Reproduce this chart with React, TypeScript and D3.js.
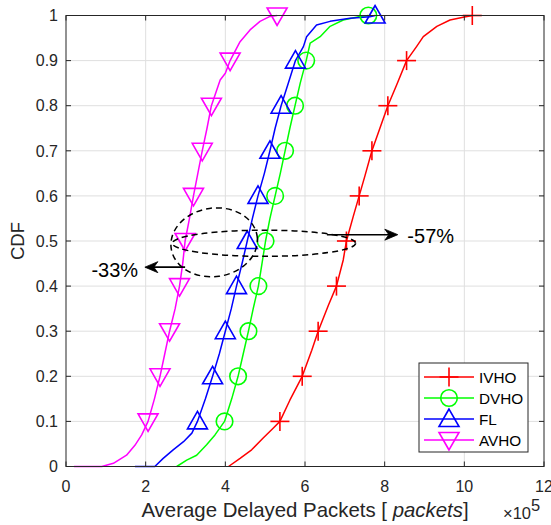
import React from 'react';
import * as d3 from 'd3';

// Empirical CDFs of average delayed packets (x in units of 1e5 packets)
const ivhoX = [4.08, 4.37, 4.66, 4.95, 5.2, 5.37, 5.62, 5.93, 6.17, 6.33, 6.59, 6.79, 6.96, 7.04, 7.21, 7.36, 7.51, 7.68, 7.88, 8.08, 8.3, 8.55, 8.8, 8.97, 9.31, 9.64, 9.97, 10.2];
const ivhoY = [0, 0.018, 0.037, 0.063, 0.085, 0.1, 0.147, 0.2, 0.258, 0.3, 0.358, 0.4, 0.458, 0.5, 0.554, 0.6, 0.646, 0.7, 0.75, 0.8, 0.846, 0.9, 0.931, 0.953, 0.976, 0.99, 0.996, 1.0];

const dvhoX = [2.78, 3.03, 3.28, 3.53, 3.74, 3.98, 4.16, 4.32, 4.45, 4.58, 4.7, 4.83, 4.92, 5.01, 5.12, 5.25, 5.38, 5.5, 5.62, 5.75, 5.88, 6.03, 6.13, 6.38, 6.63, 6.96, 7.38, 7.59];
const dvhoY = [0, 0.014, 0.025, 0.048, 0.07, 0.1, 0.15, 0.2, 0.25, 0.3, 0.35, 0.4, 0.45, 0.5, 0.55, 0.6, 0.65, 0.7, 0.75, 0.8, 0.85, 0.9, 0.939, 0.953, 0.976, 0.99, 0.998, 1.0];

const flX = [1.73, 2.23, 2.44, 2.69, 2.95, 3.16, 3.3, 3.5, 3.68, 3.85, 4.0, 4.15, 4.28, 4.42, 4.55, 4.68, 4.82, 4.98, 5.12, 5.25, 5.4, 5.58, 5.76, 5.96, 6.04, 6.29, 6.63, 7.13, 7.63, 7.76];
const flY = [0, 0, 0.018, 0.037, 0.055, 0.074, 0.1, 0.15, 0.2, 0.25, 0.3, 0.35, 0.4, 0.45, 0.5, 0.55, 0.6, 0.65, 0.7, 0.75, 0.8, 0.85, 0.9, 0.931, 0.953, 0.979, 0.987, 0.994, 0.997, 1.0];

const avhoX = [0.2, 0.9, 1.19, 1.52, 1.73, 1.9, 2.06, 2.22, 2.36, 2.48, 2.6, 2.74, 2.85, 2.93, 2.99, 3.1, 3.2, 3.31, 3.42, 3.54, 3.65, 3.87, 4.0, 4.12, 4.37, 4.62, 4.87, 5.12, 5.3];
const avhoY = [0, 0, 0.007, 0.025, 0.047, 0.07, 0.1, 0.15, 0.2, 0.25, 0.3, 0.35, 0.4, 0.45, 0.5, 0.55, 0.6, 0.65, 0.7, 0.75, 0.8, 0.857, 0.872, 0.9, 0.942, 0.968, 0.987, 0.998, 1.0];

const seriesNames = ['IVHO', 'DVHO', 'FL', 'AVHO'];
const seriesColors = ['#ff0000', '#00ff00', '#0000ff', '#ff00ff'];
const seriesMarkers = ['plus', 'circle', 'triangleUp', 'triangleDown'];

const xTicks = [0, 2, 4, 6, 8, 10, 12];
const yTicks = [0, 0.1, 0.2, 0.3, 0.4, 0.5, 0.6, 0.7, 0.8, 0.9, 1];
const yTickLabels = ['0', '0.1', '0.2', '0.3', '0.4', '0.5', '0.6', '0.7', '0.8', '0.9', '1'];

const W = 551;
const H = 525;
const FONT = '"Liberation Sans", Arial, Helvetica, sans-serif';
const AXIS_COLOR = '#262626';
const GRID_COLOR = '#dfdfdf';

const x = d3.scaleLinear().domain([0, 12]).range([66, 544]);
const y = d3.scaleLinear().domain([0, 1]).range([466.5, 15.5]);

function Marker({ kind, cx, cy, color }: { kind: string; cx: number; cy: number; color: string }) {
  const sw = 1.6;
  if (kind === 'plus') {
    return (
      <g stroke={color} strokeWidth={sw}>
        <line x1={cx - 9.5} x2={cx + 9.5} y1={cy} y2={cy} />
        <line x1={cx} x2={cx} y1={cy - 9.5} y2={cy + 9.5} />
      </g>
    );
  }
  if (kind === 'circle') {
    return <circle cx={cx} cy={cy} r={8.3} fill="none" stroke={color} strokeWidth={sw} />;
  }
  if (kind === 'triangleUp') {
    const p = `${cx},${cy - 10} ${cx - 10},${cy + 7.5} ${cx + 10},${cy + 7.5}`;
    return <polygon points={p} fill="none" stroke={color} strokeWidth={sw} strokeLinejoin="miter" />;
  }
  const p = `${cx},${cy + 10} ${cx - 10},${cy - 7.5} ${cx + 10},${cy - 7.5}`;
  return <polygon points={p} fill="none" stroke={color} strokeWidth={sw} strokeLinejoin="miter" />;
}

// Dashed ellipses and arrows marking the reductions at CDF = 0.5
const ellipseA = { cx: 3.72, cy: 0.497, rx: 1.09, ry: 0.076, rot: -8 };
const ellipseB = { cx: 4.97, cy: 0.495, rx: 2.3, ry: 0.029, rot: 0 };
const arrowRight = { x0: 6.55, x1: 8.33, y: 0.514 };
const arrowLeft = { x0: 2.99, x1: 1.98, y: 0.442 };
const labelRight = { text: '-57%', x: 8.57, y: 0.51 };
const labelLeft = { text: '-33%', x: 1.81, y: 0.436 };

function Arrow({ x0, x1, yv }: { x0: number; x1: number; yv: number }) {
  const px0 = x(x0);
  const px1 = x(x1);
  const py = y(yv);
  const dir = Math.sign(px1 - px0);
  const L = 13;
  const hw = 5.5;
  const back = 4;
  const head = `M${px1},${py} L${px1 - dir * L},${py - hw} L${px1 - dir * (L - back)},${py} L${px1 - dir * L},${py + hw} Z`;
  return (
    <g>
      <line x1={px0} x2={px1 - dir * 6} y1={py} y2={py} stroke="#000" strokeWidth={1.6} />
      <path d={head} fill="#000" stroke="#000" strokeWidth={0.8} />
    </g>
  );
}

export default function App() {
  const xs = [ivhoX, dvhoX, flX, avhoX];
  const ys = [ivhoY, dvhoY, flY, avhoY];
  const line = d3
    .line<[number, number]>()
    .x((d) => x(d[0]))
    .y((d) => y(d[1]));

  const plotL = x(0);
  const plotR = x(12);
  const plotT = y(1);
  const plotB = y(0);

  const legend = { x: 419, y: 363, w: 109, h: 89, row: 21 };

  return (
    <svg
      width={W}
      height={H}
      viewBox={`0 0 ${W} ${H}`}
      style={{ position: 'absolute', left: 0, top: 0, background: '#fff' }}
      fontFamily={FONT}
    >
      <rect x={0} y={0} width={W} height={H} fill="#fff" />
      {/* grid */}
      <g stroke={GRID_COLOR} strokeWidth={1}>
        {xTicks.slice(1, -1).map((t) => (
          <line key={'gx' + t} x1={x(t)} x2={x(t)} y1={plotT} y2={plotB} />
        ))}
        {yTicks.slice(1, -1).map((t) => (
          <line key={'gy' + t} x1={plotL} x2={plotR} y1={y(t)} y2={y(t)} />
        ))}
      </g>

      {/* curves */}
      {xs.map((xv, i) => {
        const pts = xv.map((v, j) => [v, ys[i][j]] as [number, number]);
        return (
          <path key={'c' + i} d={line(pts) || ''} fill="none" stroke={seriesColors[i]} strokeWidth={1.5} strokeLinejoin="round" />
        );
      })}
      {xs.map((xv, i) =>
        xv.map((v, j) => {
          const yv = ys[i][j];
          const isMark = yv > 0 && Math.abs(yv * 10 - Math.round(yv * 10)) < 1e-6;
          if (!isMark) return null;
          return <Marker key={`m${i}-${j}`} kind={seriesMarkers[i]} cx={x(v)} cy={y(yv)} color={seriesColors[i]} />;
        })
      )}

      {/* annotations */}
      <g fill="none" stroke="#000" strokeWidth={1.5} strokeDasharray="6,4">
        {[ellipseA, ellipseB].map((e, i) => {
          const cx = x(e.cx);
          const cy = y(e.cy);
          const rx = x(e.cx + e.rx) - cx;
          const ry = cy - y(e.cy + e.ry);
          return <ellipse key={'e' + i} cx={cx} cy={cy} rx={rx} ry={ry} transform={`rotate(${e.rot},${cx},${cy})`} />;
        })}
      </g>
      <Arrow x0={arrowRight.x0} x1={arrowRight.x1} yv={arrowRight.y} />
      <Arrow x0={arrowLeft.x0} x1={arrowLeft.x1} yv={arrowLeft.y} />
      <text x={x(labelRight.x)} y={y(labelRight.y)} dy="0.35em" fontSize={20} fill="#000">
        {labelRight.text}
      </text>
      <text x={x(labelLeft.x)} y={y(labelLeft.y)} dy="0.35em" fontSize={20} fill="#000" textAnchor="end">
        {labelLeft.text}
      </text>

      {/* axes box and ticks */}
      <rect x={plotL} y={plotT} width={plotR - plotL} height={plotB - plotT} fill="none" stroke={AXIS_COLOR} strokeWidth={1} />
      <g stroke={AXIS_COLOR} strokeWidth={1}>
        {xTicks.map((t) => (
          <g key={'tx' + t}>
            <line x1={x(t)} x2={x(t)} y1={plotB} y2={plotB - 5} />
            <line x1={x(t)} x2={x(t)} y1={plotT} y2={plotT + 5} />
          </g>
        ))}
        {yTicks.map((t) => (
          <g key={'ty' + t}>
            <line x1={plotL} x2={plotL + 5} y1={y(t)} y2={y(t)} />
            <line x1={plotR} x2={plotR - 5} y1={y(t)} y2={y(t)} />
          </g>
        ))}
      </g>
      <g fill={AXIS_COLOR} fontSize={16}>
        {xTicks.map((t) => (
          <text key={'lx' + t} x={x(t)} y={492} textAnchor="middle">
            {t}
          </text>
        ))}
        {yTicks.map((t, i) => (
          <text key={'ly' + t} x={58} y={y(t)} dy="0.36em" textAnchor="end">
            {yTickLabels[i]}
          </text>
        ))}
      </g>
      <text x={(plotL + plotR) / 2} y={517} textAnchor="middle" fontSize={20.4} fill={AXIS_COLOR}>
        Average Delayed Packets [ <tspan fontStyle="italic">packets</tspan>]
      </text>
      <text x={503} y={519} fontSize={16.5} fill={AXIS_COLOR}>
        ×10<tspan dy={-8}>5</tspan>
      </text>
      <text transform={`translate(24,${(plotT + plotB) / 2}) rotate(-90)`} textAnchor="middle" fontSize={18.5} fill={AXIS_COLOR}>
        CDF
      </text>

      {/* legend */}
      <rect x={legend.x} y={legend.y} width={legend.w} height={legend.h} fill="#fff" stroke={AXIS_COLOR} strokeWidth={1} />
      {seriesNames.map((name, i) => {
        const ry = legend.y + 14 + i * legend.row;
        return (
          <g key={'lg' + i}>
            <line x1={legend.x + 5} x2={legend.x + 55} y1={ry} y2={ry} stroke={seriesColors[i]} strokeWidth={1.5} />
            <Marker kind={seriesMarkers[i]} cx={legend.x + 30} cy={ry} color={seriesColors[i]} />
            <text x={legend.x + 60} y={ry} dy="0.36em" fontSize={15.3} fill="#000">
              {name}
            </text>
          </g>
        );
      })}
    </svg>
  );
}
